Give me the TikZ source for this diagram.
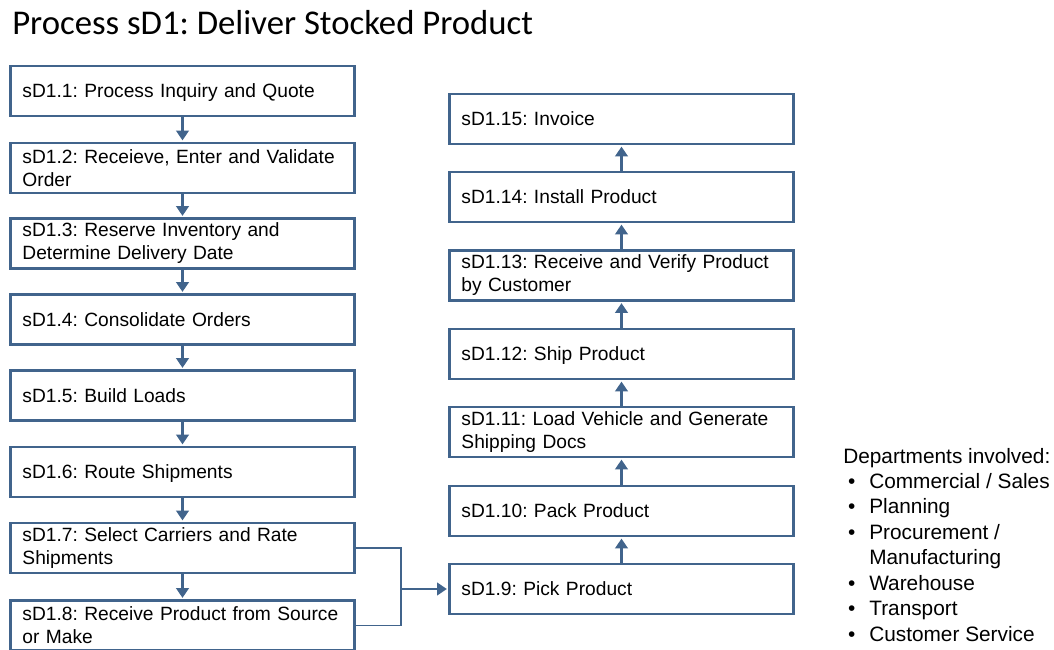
\documentclass[tikz,border=0pt]{standalone}
\usepackage{fontspec}
\setmainfont{Liberation Sans}
\newfontfamily\titlefont{Carlito}
\usetikzlibrary{arrows.meta}
\definecolor{boxblue}{RGB}{65,100,140}
\newcommand{\deptitem}{\makebox[18.5pt][l]{\hspace{3.5pt}\textbullet}}
\frenchspacing
\hyphenpenalty=10000

\begin{document}
\begin{tikzpicture}[x=0.025cm, y=-0.025cm,
    stepbox/.style={draw=boxblue, line width=2.1pt, fill=white,
      minimum width=8.6cm, minimum height=1.25cm, text width=8cm,
      inner xsep=0.3cm, inner ysep=0pt, align=left,
      font=\fontsize{13.65}{16.4}\selectfont},
    oneline/.style={stepbox, text depth=0pt},
    flow/.style={draw=boxblue, line width=1.6pt, shorten >=0.8pt,
      -{Triangle[width=9pt, length=7pt]}},
    link/.style={draw=boxblue, line width=0.9pt}]
  \useasboundingbox (0,0) rectangle (1054,650);
  \clip (0,0) rectangle (1054,650);

  % Title
  \node[anchor=base west, inner sep=0pt, font=\titlefont\fontsize{24.7}{30}\selectfont]
    (title) at (12,35) {Process sD1: Deliver Stocked Product};

  % Left column
  \node[oneline] (sd1) at (182.5,91)  {sD1.1: Process Inquiry and Quote};
  \node[stepbox] (sd2) at (182.5,168) {sD1.2: Receieve, Enter and Validate Order};
  \node[stepbox] (sd3) at (182.5,243.5) {sD1.3: Reserve Inventory and Determine Delivery Date};
  \node[oneline] (sd4) at (182.5,319.5) {sD1.4: Consolidate Orders};
  \node[oneline] (sd5) at (182.5,395.5) {sD1.5: Build Loads};
  \node[oneline] (sd6) at (182.5,472) {sD1.6: Route Shipments};
  \node[stepbox] (sd7) at (182.5,548) {sD1.7: Select Carriers and Rate Shipments};
  \node[stepbox] (sd8) at (182.5,625.5) {sD1.8: Receive Product from Source or Make};

  % Right column
  \node[oneline] (sd9)  at (621.5,589) {sD1.9: Pick Product};
  \node[oneline] (sd10) at (621.5,511) {sD1.10: Pack Product};
  \node[stepbox] (sd11) at (621.5,432) {sD1.11: Load Vehicle and Generate Shipping Docs};
  \node[oneline] (sd12) at (621.5,354) {sD1.12: Ship Product};
  \node[stepbox] (sd13) at (621.5,275.5) {sD1.13: Receive and Verify Product by Customer};
  \node[oneline] (sd14) at (621.5,197) {sD1.14: Install Product};
  \node[oneline] (sd15) at (621.5,119) {sD1.15: Invoice};

  % Departments
  \node[anchor=base west, inner sep=0pt, align=left,
    font=\fontsize{14.8}{18.07}\selectfont] (dept) at (843,641)
    {Departments involved:\\
     \deptitem Commercial / Sales\\
     \deptitem Planning\\
     \deptitem Procurement /\\
     \hspace*{18.5pt}Manufacturing\\
     \deptitem Warehouse\\
     \deptitem Transport\\
     \deptitem Customer Service};

  % Connections
  \foreach \a/\b in {1/2,2/3,3/4,4/5,5/6,6/7,7/8,9/10,10/11,11/12,12/13,13/14,14/15}
    \draw[flow] (sd\a) -- (sd\b);
  \coordinate (jn) at (401,589);
  \draw[link] (sd7.east) -| (jn) |- (sd8.east);
  \draw[flow] (jn) -- (sd9.west);
\end{tikzpicture}
\end{document}
